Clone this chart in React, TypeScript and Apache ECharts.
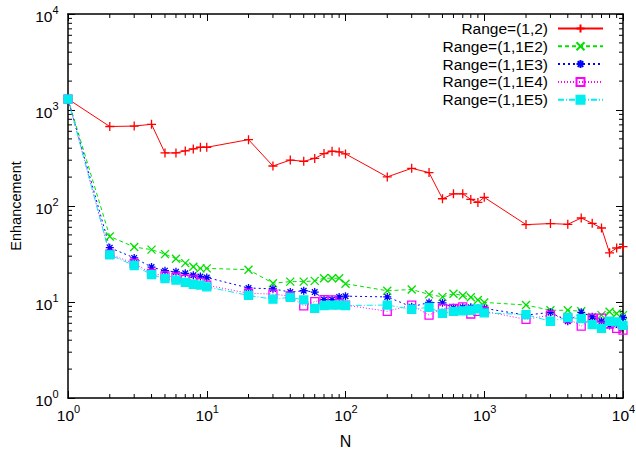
import React, { useEffect, useRef } from "react";
import * as echarts from "echarts";

const N = [1, 2, 3, 4, 5, 6, 7, 8, 9, 10, 20, 30, 40, 50, 60, 70, 80, 90, 100, 200, 300, 400, 500, 600, 700, 800, 900, 1000, 2000, 3000, 4000, 5000, 6000, 7000, 8000, 9000, 10000];

const range12 = [1300, 673, 680, 710, 357, 357, 375, 393, 409, 409, 491, 261, 301, 292, 313, 352, 372, 366, 349, 201, 247, 223, 119, 134, 134, 117, 109, 123, 64, 65.6, 64.5, 75, 66, 59, 32.5, 36.5, 37.7];
const range1e2 = [1300, 48.2, 37.4, 35.1, 31.5, 28.2, 25.4, 23.3, 22.4, 22.4, 21.7, 15.7, 16.3, 16.3, 16.6, 17.7, 17.7, 17.7, 15.5, 13.1, 13.5, 12.0, 11.3, 12.2, 11.7, 11.2, 10.5, 9.9, 9.3, 8.2, 8.2, 8.0, 7.0, 7.3, 7.9, 7.6, 7.3];
const range1e3 = [1300, 36.8, 28.8, 23.1, 21.2, 20.6, 19.9, 19.0, 18.4, 18.0, 14.0, 13.7, 12.7, 13.1, 12.7, 10.6, 10.6, 11.3, 11.5, 11.3, 8.9, 9.9, 9.8, 8.7, 8.8, 8.8, 8.6, 8.6, 7.3, 7.8, 6.3, 7.8, 7.0, 6.3, 5.7, 5.9, 6.9];
const range1e4 = [1300, 31.5, 25.2, 19.9, 18.7, 18.1, 17.3, 17.0, 16.0, 15.0, 12.3, 12.1, 11.5, 9.1, 10.1, 10.6, 10.5, 9.6, 9.3, 8.0, 9.3, 7.3, 8.6, 8.6, 8.9, 7.5, 8.0, 8.0, 6.6, 7.3, 6.8, 5.6, 6.8, 6.8, 5.9, 5.3, 5.1];
const range1e5 = [1300, 31.0, 24.0, 19.3, 17.5, 16.9, 16.0, 15.3, 15.0, 14.4, 11.7, 10.7, 11.2, 10.5, 8.6, 9.2, 9.3, 9.3, 9.2, 9.3, 8.4, 8.8, 7.6, 8.0, 8.1, 8.2, 8.5, 7.7, 7.4, 6.3, 6.9, 6.7, 5.8, 5.3, 6.3, 6.2, 5.7];

const seriesNames = ["Range=(1,2)", "Range=(1,1E2)", "Range=(1,1E3)", "Range=(1,1E4)", "Range=(1,1E5)"];
const tickExponents = [0, 1, 2, 3, 4];
const minorMultipliers = [2, 3, 4, 5, 6, 7, 8, 9];
const decades = [1, 10, 100, 1000];

const FONT = "Liberation Sans";
const BASE_SIZE = 15.5;
const SUP_SIZE = 11;

const PLUS = "path://M0,5L10,5M5,0L5,10";
const CROSS = "path://M0,0L10,10M10,0L0,10";
const STAR = "path://M0,5L10,5M5,0L5,10M1.5,1.5L8.5,8.5M8.5,1.5L1.5,8.5";

export default function App() {
  const ref = useRef<HTMLDivElement>(null);

  useEffect(() => {
    if (!ref.current) return;
    const chart = echarts.init(ref.current, undefined, { renderer: "svg" });

    const minorVals: number[] = [];
    decades.forEach((d) => minorMultipliers.forEach((m) => minorVals.push(d * m)));

    const pairs = (ys: number[]) => N.map((x, i) => [x, ys[i]]);

    const mkLine = (name: string, ys: number[], color: string, type: any, symbol: string, size: number, fill: string) => ({
      name,
      type: "line",
      data: pairs(ys),
      xAxisIndex: 0,
      yAxisIndex: 0,
      symbol,
      symbolSize: size,
      showAllSymbol: true,
      lineStyle: { color, width: 1, type },
      itemStyle: { color: fill, borderColor: color, borderWidth: 1.3 },
      emphasis: { disabled: true },
      z: 3,
    });

    const tickStyle = { stroke: "#000", lineWidth: 1 };
    const baseW = BASE_SIZE * 0.556 * 2;
    const supW = SUP_SIZE * 0.556;
    const txt = (text: string, x: number, y: number, size: number, align: string) => ({
      type: "text",
      x,
      y,
      style: { text, fontSize: size, fontFamily: FONT, fill: "#000", align, verticalAlign: "middle" },
    });

    const axisCommon = (position: string) => ({
      type: "log",
      logBase: 10,
      min: 1,
      max: 10000,
      position,
      axisLine: { lineStyle: { color: "#000", width: 1.5 } },
      axisTick: { inside: true, length: 7, lineStyle: { color: "#000" } },
      axisLabel: { show: false },
      splitLine: { show: false },
    });

    chart.setOption({
      animation: false,
      textStyle: { fontFamily: FONT },
      grid: { left: 59, right: 13, top: 14, bottom: 51, containLabel: false },
      legend: {
        orient: "vertical",
        align: "right",
        right: 32,
        top: 20.5,
        padding: 0,
        itemWidth: 45,
        itemHeight: 10,
        itemGap: 1.8,
        selectedMode: false,
        textStyle: { fontSize: 15.5, fontFamily: FONT, color: "#000", lineHeight: 14, padding: [0, 5, 0, 0] },
        data: seriesNames,
      },
      xAxis: [
        {
          ...axisCommon("bottom"),
          name: "N",
          nameLocation: "middle",
          nameGap: 35,
          nameTextStyle: { fontSize: 16, fontFamily: FONT, color: "#000" },
        },
        axisCommon("top"),
      ],
      yAxis: [
        {
          ...axisCommon("left"),
          name: "Enhancement",
          nameLocation: "middle",
          nameGap: 45,
          nameTextStyle: { fontSize: 14.5, fontFamily: FONT, color: "#000" },
        },
        axisCommon("right"),
      ],
      series: [
        {
          type: "custom",
          silent: true,
          clip: false,
          xAxisIndex: 0,
          yAxisIndex: 0,
          data: minorVals.map((v) => [v, 1]),
          renderItem: (_p: any, api: any) => {
            const v = api.value(0);
            const b = api.coord([v, 1]);
            const t = api.coord([v, 10000]);
            return {
              type: "group",
              children: [
                { type: "line", shape: { x1: b[0], y1: b[1], x2: b[0], y2: b[1] - 4 }, style: tickStyle },
                { type: "line", shape: { x1: t[0], y1: t[1], x2: t[0], y2: t[1] + 4 }, style: tickStyle },
              ],
            };
          },
          z: 1,
        },
        {
          type: "custom",
          silent: true,
          clip: false,
          xAxisIndex: 0,
          yAxisIndex: 0,
          data: minorVals.map((v) => [1, v]),
          renderItem: (_p: any, api: any) => {
            const v = api.value(1);
            const l = api.coord([1, v]);
            const r = api.coord([10000, v]);
            return {
              type: "group",
              children: [
                { type: "line", shape: { x1: l[0], y1: l[1], x2: l[0] + 4, y2: l[1] }, style: tickStyle },
                { type: "line", shape: { x1: r[0], y1: r[1], x2: r[0] - 4, y2: r[1] }, style: tickStyle },
              ],
            };
          },
          z: 1,
        },
        {
          type: "custom",
          silent: true,
          clip: false,
          xAxisIndex: 0,
          yAxisIndex: 0,
          data: tickExponents.map((e) => [Math.pow(10, e), 1, e]),
          renderItem: (_p: any, api: any) => {
            const v = api.value(0);
            const e = api.value(2);
            const c = api.coord([v, 1]);
            const total = baseW + supW;
            const left = c[0] - total / 2 + 0.5;
            return {
              type: "group",
              children: [
                txt("10", left, c[1] + 17.5, BASE_SIZE, "left"),
                txt(String(e), left + baseW, c[1] + 10.5, SUP_SIZE, "left"),
              ],
            };
          },
          z: 2,
        },
        {
          type: "custom",
          silent: true,
          clip: false,
          xAxisIndex: 0,
          yAxisIndex: 0,
          data: tickExponents.map((e) => [1, Math.pow(10, e), e]),
          renderItem: (_p: any, api: any) => {
            const v = api.value(1);
            const e = api.value(2);
            const c = api.coord([1, v]);
            const right = c[0] - 9.5;
            return {
              type: "group",
              children: [
                txt("10", right - supW, c[1] + 2, BASE_SIZE, "right"),
                txt(String(e), right, c[1] - 4.5, SUP_SIZE, "right"),
              ],
            };
          },
          z: 2,
        },
        mkLine(seriesNames[0], range12, "#ff0000", "solid", PLUS, 9, "#ff0000"),
        mkLine(seriesNames[1], range1e2, "#00e000", [4, 3], CROSS, 8, "#00e000"),
        mkLine(seriesNames[2], range1e3, "#0000ff", [2, 3], STAR, 8, "#0000ff"),
        mkLine(seriesNames[3], range1e4, "#ff00ff", [1, 2], "rect", 8, "rgba(0,0,0,0)"),
        mkLine(seriesNames[4], range1e5, "#00eeee", [6, 2, 1, 2], "rect", 8, "#00eeee"),
      ],
    });

    return () => chart.dispose();
  }, []);

  return <div ref={ref} style={{ position: "absolute", left: 0, top: 0, width: 636, height: 454 }} />;
}
